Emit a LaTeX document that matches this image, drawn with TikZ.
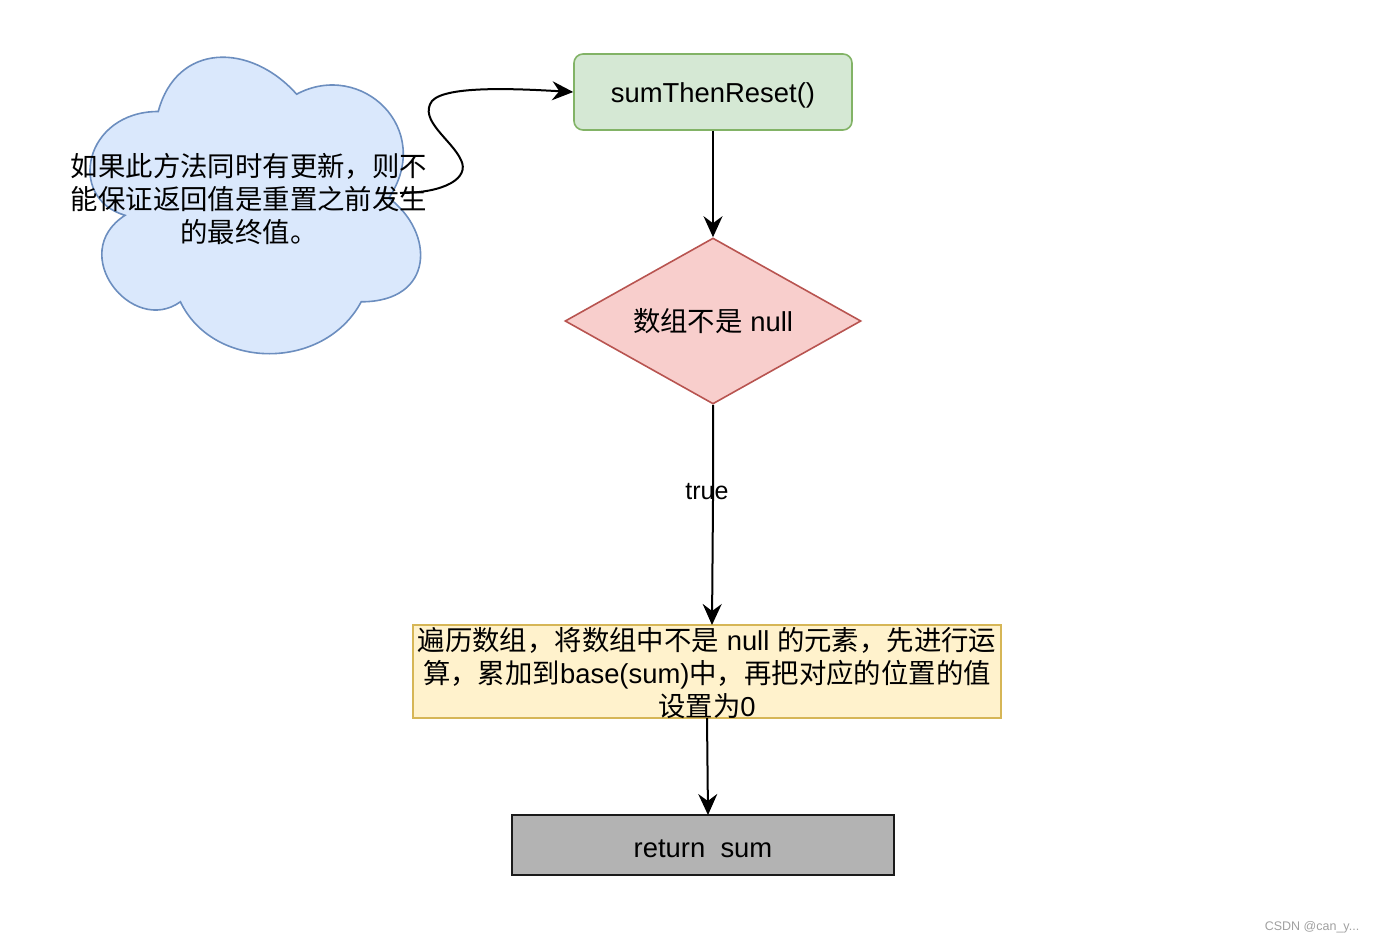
\documentclass[tikz,border=0pt]{standalone}
\usepackage{fontspec}
\setmainfont{Liberation Sans}
\newfontfamily\cjk{Noto Sans CJK SC}
\usetikzlibrary{arrows.meta,shapes.geometric}
\definecolor{gfill}{HTML}{D5E8D4}\definecolor{gline}{HTML}{82B366}
\definecolor{rfill}{HTML}{F8CECC}\definecolor{rline}{HTML}{B85450}
\definecolor{yfill}{HTML}{FFF2CC}\definecolor{yline}{HTML}{D6B656}
\definecolor{bfill}{HTML}{DAE8FC}\definecolor{bline}{HTML}{6C8EBF}
\definecolor{kfill}{HTML}{B3B3B3}\definecolor{kline}{HTML}{1A1A1A}
\definecolor{wmark}{HTML}{A0A0A0}
\tikzset{
  txt/.style={font=\fontsize{27.4}{33}\selectfont, align=center, inner sep=0pt},
  box/.style={txt, line width=1.6pt, draw},
  conn/.style={line width=2pt, -{Stealth[length=21pt,width=19pt,inset=7pt]}},
}
\begin{document}
\begin{tikzpicture}[x=1pt,y=-1pt]
\useasboundingbox (0,0) rectangle (1376,944);
% cloud
\draw[fill=bfill, draw=bline, line width=1.6pt]
  (158.25,111.5) .. controls (84.45,111.5) and (66,198) .. (125.04,215.3)
  .. controls (66,253.36) and (132.42,336.4) .. (180.39,301.8)
  .. controls (213.6,371) and (324.3,371) .. (361.2,301.8)
  .. controls (435,301.8) and (435,232.6) .. (388.875,198)
  .. controls (435,128.8) and (361.2,59.6) .. (296.6,94.2)
  .. controls (250.5,42.3) and (176.7,42.3) .. (158.25,111.5) -- cycle;
\coordinate (cloudR) at (400,193);
% nodes
\node[box, rounded corners=9pt, fill=gfill, draw=gline, minimum width=278pt, minimum height=76pt, text height=28pt, text depth=6pt] (start) at (713,92) {sumThenReset()};
\node[txt, diamond, draw=rline, fill=rfill, line width=1.6pt, aspect=1.78, minimum width=296pt, minimum height=166pt] (cond) at (713,321) {{\cjk 数组不是} null};
\node[box, fill=yfill, draw=yline, minimum width=588pt, minimum height=93pt] (loop) at (707,671.5) {};
\node[box, fill=kfill, draw=kline, minimum width=382pt, minimum height=60pt, text height=28pt, text depth=4pt] (ret) at (703,845) {return\ \ sum};
% connectors
\draw[conn] (cloudR) .. controls (445,193) and (470,178) .. (461,160)
  .. controls (452,140) and (418,120) .. (432,101)
  .. controls (446,85) and (520,89) .. (start.west);
\draw[conn] (start.south) -- (cond.north);
\draw[conn] (cond.south) -- (713,500) -- (712,625);
\node[font=\fontsize{25}{30}\selectfont, inner sep=0pt] (tlabel) at (707,492) {true};
\draw[conn] (707,718) -- (708,815);
% texts
\node[txt] (cloudtext) at (249,199) {{\cjk 如果此方法同时有更新，则不}\\{\cjk 能保证返回值是重置之前发生}\\{\cjk 的最终值。}};
\node[txt] (looptext) at (707,673) {{\cjk 遍历数组，将数组中不是} null {\cjk 的元素，先进行运}\\{\cjk 算，累加到}base(sum){\cjk 中，再把对应的位置的值}\\{\cjk 设置为}0};
\node[font=\fontsize{12.5}{14}\selectfont, text=wmark, inner sep=0pt] (wm) at (1312,927) {CSDN @can\_y...};
\end{tikzpicture}
\end{document}
